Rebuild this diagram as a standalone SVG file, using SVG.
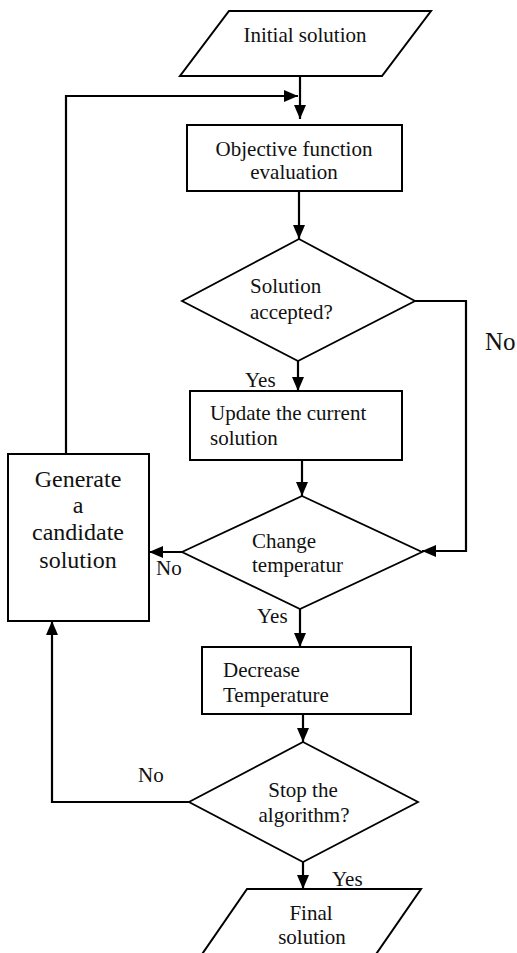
<svg xmlns="http://www.w3.org/2000/svg" width="517" height="953" viewBox="0 0 517 953" font-family="Liberation Serif">
<defs>
<marker id="ah" viewBox="0 0 14 12" refX="14" refY="6" markerWidth="14" markerHeight="12" markerUnits="userSpaceOnUse" orient="auto">
<path d="M0,0 L14,6 L0,12 z" fill="#000"/>
</marker>
</defs>
<rect width="517" height="953" fill="#fff"/>
<g id="connectors" fill="none" stroke="#000" stroke-width="2.2">
<path d="M300,76 V119" marker-end="url(#ah)"/>
<path d="M66,454 V96 H298" marker-end="url(#ah)"/>
<path d="M299,191 V239" marker-end="url(#ah)"/>
<path d="M298,361 V391" marker-end="url(#ah)"/>
<path d="M415,301 H466 V551 H422" marker-end="url(#ah)"/>
<path d="M302,460 V496" marker-end="url(#ah)"/>
<path d="M182,552 H149" marker-end="url(#ah)"/>
<path d="M300,609 V647" marker-end="url(#ah)"/>
<path d="M303,714 V742" marker-end="url(#ah)"/>
<path d="M189,802 H52 V621" marker-end="url(#ah)"/>
<path d="M303,862 V889" marker-end="url(#ah)"/>
</g>
<g id="labels" fill="#111" font-size="21">
<text x="485" y="350" font-size="25">No</text>
<text x="245" y="387">Yes</text>
<text x="156" y="575">No</text>
<text x="257" y="623">Yes</text>
<text x="138" y="782">No</text>
<text x="332" y="886">Yes</text>
</g>
<g id="initial">
<polygon fill="#fff" stroke="#000" stroke-width="2" points="229,11 431,11 382,76 180,76"/>
<text x="305" y="42" font-size="21" fill="#111" text-anchor="middle">Initial solution</text>
</g>
<g id="objective">
<rect fill="#fff" stroke="#000" stroke-width="2" x="187" y="125" width="215" height="66"/>
<text x="294" y="156" font-size="21" fill="#111" text-anchor="middle">Objective function</text>
<text x="294" y="179" font-size="21" fill="#111" text-anchor="middle">evaluation</text>
</g>
<g id="accepted">
<polygon fill="#fff" stroke="#000" stroke-width="1.8" points="299,239 415,301 298,361 182,301"/>
<text x="250" y="293" font-size="21" fill="#111">Solution</text>
<text x="250" y="319" font-size="21" fill="#111">accepted?</text>
</g>
<g id="update">
<rect fill="#fff" stroke="#000" stroke-width="2" x="190" y="391" width="212" height="69"/>
<text x="210" y="420" font-size="21" fill="#111">Update the current</text>
<text x="210" y="445" font-size="21" fill="#111">solution</text>
</g>
<g id="generate">
<rect fill="#fff" stroke="#000" stroke-width="2" x="8" y="454" width="141" height="167"/>
<text x="78" y="487" font-size="24" fill="#111" text-anchor="middle">Generate</text>
<text x="78" y="513" font-size="24" fill="#111" text-anchor="middle">a</text>
<text x="78" y="540" font-size="24" fill="#111" text-anchor="middle">candidate</text>
<text x="78" y="568" font-size="24" fill="#111" text-anchor="middle">solution</text>
</g>
<g id="change">
<polygon fill="#fff" stroke="#000" stroke-width="1.8" points="302,496 422,552 300,609 182,552"/>
<text x="252" y="548" font-size="21" fill="#111">Change</text>
<text x="252" y="572" font-size="21" fill="#111">temperatur</text>
</g>
<g id="decrease">
<rect fill="#fff" stroke="#000" stroke-width="2" x="202" y="647" width="209" height="67"/>
<text x="223" y="677" font-size="21" fill="#111">Decrease</text>
<text x="223" y="702" font-size="21" fill="#111">Temperature</text>
</g>
<g id="stop">
<polygon fill="#fff" stroke="#000" stroke-width="1.8" points="303,742 418,802 303,862 189,802"/>
<text x="303" y="797" font-size="21" fill="#111" text-anchor="middle">Stop the</text>
<text x="304" y="822" font-size="21" fill="#111" text-anchor="middle">algorithm?</text>
</g>
<g id="final">
<polygon fill="#fff" stroke="#000" stroke-width="2" points="247,889 421,889 372,960 198,960"/>
<text x="311" y="920" font-size="21" fill="#111" text-anchor="middle">Final</text>
<text x="312" y="944" font-size="21" fill="#111" text-anchor="middle">solution</text>
</g>
</svg>
